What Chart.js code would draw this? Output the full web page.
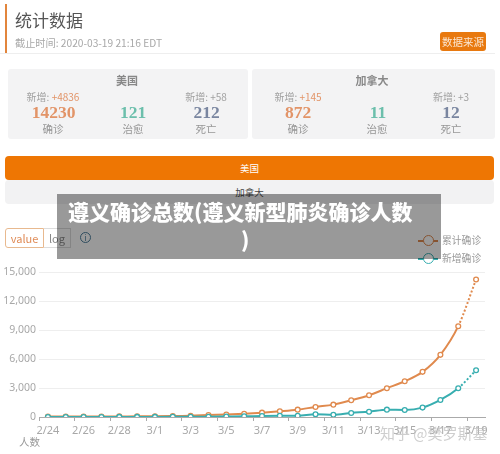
<!DOCTYPE html>
<html><head><meta charset="utf-8">
<script src="https://cdn.jsdelivr.net/npm/chart.js@4"></script>
<style>
html,body{margin:0;padding:0;background:#fff;}
body{width:500px;height:454px;overflow:hidden;position:relative;font-family:"Noto Sans CJK SC","Noto Sans",sans-serif;}
#page{position:absolute;left:0;top:0;width:500px;height:454px;filter:blur(.35px);}
#page div{position:absolute;white-space:nowrap;}
canvas{position:absolute;left:0;top:0;}
.c{transform:translateX(-50%);line-height:1;}
.n{font-family:"Liberation Serif",serif;font-size:17.5px;font-weight:bold;}
.s{font-size:10px;color:#a0a0a0;}
.l{font-size:10.5px;color:#969696;}
.o{color:#e29468}.g{color:#6cbfac}.b{color:#7a86a0}
.card{background:#f3f3f4;border-radius:3px;top:69px;height:70px;}
</style></head><body>
<div id="page">
<div style="left:5px;top:4px;width:2px;height:49px;background:#e2853c"></div>
<div style="left:15px;top:10px;font-size:17px;line-height:1.2;color:#555">统计数据</div>
<div style="left:15px;top:37px;font-size:10.2px;line-height:1.2;color:#a8a8a8">截止时间: 2020-03-19 21:16 EDT</div>
<div style="left:0;top:53px;width:495px;height:1px;background:#eee"></div>
<div style="left:440px;top:32px;width:46px;height:19px;border-radius:3px;background:#e8790f;color:#fbe6d0;font-size:10.5px;line-height:19px;text-align:center">数据来源</div>

<div class="card" style="left:8px;width:240px"></div>
<div class="card" style="left:252px;width:243px"></div>
<div class="c" style="left:127px;top:75px;font-size:11px;font-weight:bold;color:#888">美国</div>
<div class="c s" style="left:53px;top:92px">新增: <span class="o">+4836</span></div>
<div class="c n o" style="left:53.5px;top:104px">14230</div>
<div class="c l" style="left:53px;top:124px">确诊</div>
<div class="c n g" style="left:133px;top:104px">121</div>
<div class="c l" style="left:133px;top:124px">治愈</div>
<div class="c s" style="left:206px;top:92px">新增: +58</div>
<div class="c n b" style="left:206.5px;top:104px">212</div>
<div class="c l" style="left:206px;top:124px">死亡</div>

<div class="c" style="left:372px;top:75px;font-size:11px;font-weight:bold;color:#888">加拿大</div>
<div class="c s" style="left:298px;top:92px">新增: <span class="o">+145</span></div>
<div class="c n o" style="left:298px;top:104px">872</div>
<div class="c l" style="left:298px;top:124px">确诊</div>
<div class="c n g" style="left:378px;top:104px">11</div>
<div class="c l" style="left:377px;top:124px">治愈</div>
<div class="c s" style="left:451px;top:92px">新增: +3</div>
<div class="c n b" style="left:451px;top:104px">12</div>
<div class="c l" style="left:451px;top:124px">死亡</div>

<div style="left:5px;top:156px;width:489px;height:24px;border-radius:4px;background:#ee7603;color:#fff;font-size:9.5px;line-height:24px;text-align:center">美国</div>
<div style="left:5px;top:180px;width:489px;height:24px;border-radius:4px;background:#f2f2f3;color:#444;font-size:9.5px;line-height:24px;text-align:center">加拿大</div>

<div style="left:5px;top:228px;width:37px;height:18px;border:1px solid #e8b98f;border-radius:3px 0 0 3px;color:#df8a55;font-size:11px;line-height:18px;text-align:center">value</div>
<div style="left:44px;top:228px;width:26px;height:18px;border:1px solid #ddd;border-left:0;color:#888;font-size:11px;line-height:18px;text-align:center">log</div>
<div style="left:80px;top:232px;width:9px;height:9px;border:1px solid #4d7f9c;border-radius:50%;color:#4d7f9c;font-size:8px;line-height:9px;text-align:center">i</div>

<canvas id="chart" width="500" height="454"></canvas>

<div style="left:418px;top:240px;width:20px;height:1.5px;background:#e08a50"></div>
<div style="left:423px;top:235px;width:9px;height:9px;border:1.5px solid #e08a50;border-radius:50%;background:#fff"></div>
<div style="left:418px;top:258px;width:20px;height:1.5px;background:#38aeb0"></div>
<div style="left:423px;top:253px;width:9px;height:9px;border:1.5px solid #38aeb0;border-radius:50%;background:#fff"></div>
<div style="left:442px;top:234px;font-size:9.8px;line-height:12px;color:#999">累计确诊</div>
<div style="left:442px;top:252px;font-size:9.8px;line-height:12px;color:#999">新增确诊</div>

<div style="left:19px;top:435px;font-size:10.5px;line-height:13px;color:#999">人数</div>
<div style="left:380px;top:424px;font-size:15px;line-height:18px;color:rgba(190,190,190,.75)">知乎 @樊罗斯基</div>

<div style="left:57px;top:194px;width:384px;height:65px;background:rgba(0,0,0,.4)"></div>
<div style="left:68px;top:197px;font-size:21px;line-height:29px;font-weight:900;color:#fff">遵义确诊总数(遵义新型肺炎确诊人数</div>
<div style="left:241px;top:225px;font-size:21px;line-height:29px;font-weight:900;color:#fff">)</div>
</div>
<script>
const categories=["2/24","2/25","2/26","2/27","2/28","2/29","3/1","3/2","3/3","3/4","3/5","3/6","3/7","3/8","3/9","3/10","3/11","3/12","3/13","3/14","3/15","3/16","3/17","3/18","3/19"];
const cumulative=[51,53,53,55,60,65,75,100,130,200,260,340,450,590,760,1040,1280,1730,2250,2980,3700,4670,6430,9394,14230];
const newCases=[5,5,5,5,8,8,10,15,30,30,50,70,110,130,135,280,240,420,550,760,730,970,1760,2980,4836];
const yTicks=[0,3000,6000,9000,12000,15000];
const orange="#e08a4e", teal="#38aeb0";
const dashLast=ctx=>ctx.p1DataIndex===categories.length-1?[2,2]:undefined;
function ds(label,data,color){return{label,data,borderColor:color,backgroundColor:"#fff",borderWidth:2,pointRadius:2.4,pointHoverRadius:2.4,pointBorderWidth:1.3,pointBorderColor:color,pointBackgroundColor:"#fff",cubicInterpolationMode:"monotone",segment:{borderDash:dashLast}};}
new Chart(document.getElementById("chart"),{
 type:"line",
 data:{labels:categories,datasets:[ds("新增确诊",newCases,teal),ds("累计确诊",cumulative,orange)]},
 options:{
  responsive:false,animation:false,devicePixelRatio:1,
  layout:{padding:{left:0,right:15,top:272,bottom:0}},
  plugins:{legend:{display:false},tooltip:{enabled:false},title:{display:false}},
  scales:{
   x:{offset:true,
      afterFit(s){s.height=37;},
      grid:{offset:true,drawOnChartArea:false,drawTicks:true,tickLength:4,
            tickColor:c=>(c.index%2===0||c.index===categories.length)?"#aaa":"rgba(0,0,0,0)"},
      border:{color:"#aaa",width:1},
      ticks:{autoSkip:false,maxRotation:0,minRotation:0,padding:3,color:"#a8a8a8",font:{size:11,family:"'Noto Sans','Noto Sans CJK SC',sans-serif"},
             callback(v,i){return i%2===0?categories[i]:"";}}},
   y:{min:0,max:15000,
      afterFit(s){s.width=39;},
      afterBuildTicks(s){s.ticks=yTicks.map(v=>({value:v}));},
      grid:{color:c=>c.tick&&c.tick.value===0?"rgba(0,0,0,0)":"#eeeeee",lineWidth:1,drawTicks:false},
      border:{display:false},
      ticks:{padding:3,color:"#a8a8a8",font:{size:10.5,family:"'Noto Sans','Noto Sans CJK SC',sans-serif"},
             callback:v=>v.toLocaleString("en-US")}}
  }
 }
});
</script>
</body></html>
